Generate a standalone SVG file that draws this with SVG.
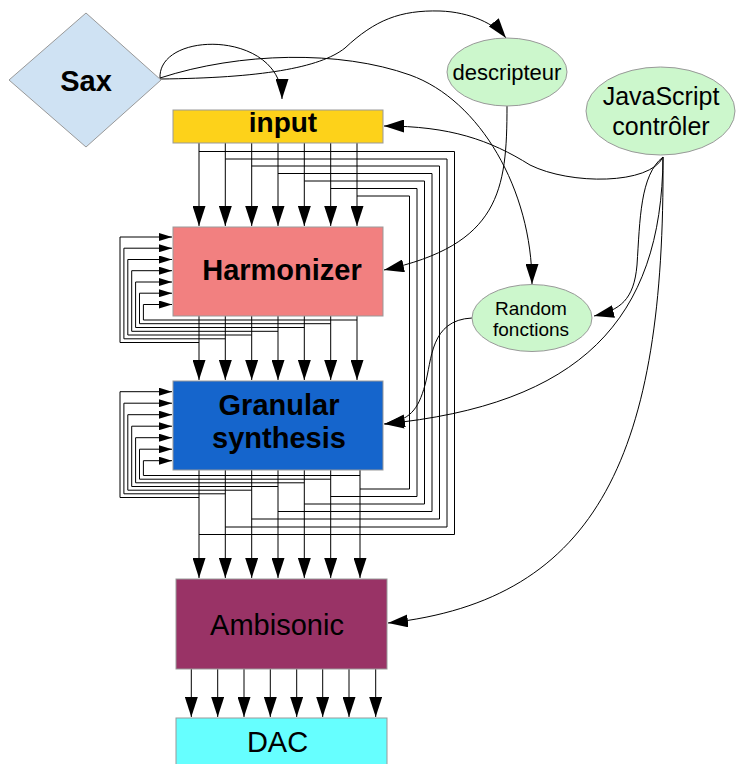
<svg xmlns="http://www.w3.org/2000/svg" width="736" height="764" viewBox="0 0 736 764">
<style>
.box{stroke:#999;stroke-width:1}
.ell{fill:#ccf7cc;stroke:#999;stroke-width:1}
.lbl{font-family:"Liberation Sans",Arial,sans-serif;text-anchor:middle;fill:#000}
.b{font-weight:bold}
.w{fill:none;stroke:#000;stroke-width:1}
.a{marker-end:url(#ah)}
.s{marker-end:url(#sh)}
</style>
<defs>
<marker id="ah" viewBox="0 0 20 13" refX="20" refY="6.5" markerWidth="20" markerHeight="13" markerUnits="userSpaceOnUse" orient="auto"><path d="M0,0L20,6.5L0,13z" fill="#000"/></marker>
<marker id="sh" viewBox="0 0 13 8" refX="13" refY="4" markerWidth="13" markerHeight="8" markerUnits="userSpaceOnUse" orient="auto"><path d="M0,0L13,4L0,8z" fill="#000"/></marker>
</defs>
<rect width="736" height="764" fill="#fff"/>
<g id="connectors" class="w">
<!-- input to harmonizer -->
<path class="a" d="M199,143V226"/><path class="a" d="M225.3,143V226"/><path class="a" d="M251.7,143V226"/><path class="a" d="M278,143V226"/><path class="a" d="M304.3,143V226"/><path class="a" d="M330.7,143V226"/><path class="a" d="M357,143V226"/>
<!-- input bypass to ambisonic -->
<path d="M199,151.5H454.5V534.5H199"/>
<path d="M225.3,159H447V527H225.3"/>
<path d="M251.7,166H439.5V519H251.7"/>
<path d="M278,173.5H432V511.5H278"/>
<path d="M304.3,181H424.5V504H304.3"/>
<path d="M330.7,188.5H417V496.5H330.7"/>
<path d="M357,196H409.5V489H360"/>
<!-- harmonizer feedback -->
<path class="s" d="M199,342.5H120V237H172"/>
<path class="s" d="M225.3,338.8H123.9V248.2H172"/>
<path class="s" d="M251.7,335H127.8V259.5H172"/>
<path class="s" d="M278,331.3H131.7V270.7H172"/>
<path class="s" d="M304.3,327.5H135.6V282H172"/>
<path class="s" d="M330.7,323.7H139.5V293.2H172"/>
<path class="s" d="M357,320H143.4V304.5H172"/>
<!-- harmonizer to granular -->
<path class="a" d="M199,316V380"/><path class="a" d="M225.3,316V380"/><path class="a" d="M251.7,316V380"/><path class="a" d="M278,316V380"/><path class="a" d="M304.3,316V380"/><path class="a" d="M330.7,316V380"/><path class="a" d="M357,316V380"/>
<!-- granular feedback -->
<path class="s" d="M199,497.5H120V391.7H172"/>
<path class="s" d="M225.3,493.8H123.9V403.2H172"/>
<path class="s" d="M251.7,490.2H127.8V414.7H172"/>
<path class="s" d="M278,486.5H131.7V426.2H172"/>
<path class="s" d="M304.3,482.8H135.6V437.7H172"/>
<path class="s" d="M330.7,479.2H139.5V449.2H172"/>
<path class="s" d="M360,475.5H143.4V460.7H172"/>
<!-- granular to ambisonic -->
<path class="a" d="M199,470V578"/><path class="a" d="M225.3,470V578"/><path class="a" d="M251.7,470V578"/><path class="a" d="M278,470V578"/><path class="a" d="M304.3,470V578"/><path class="a" d="M330.7,470V578"/><path class="a" d="M360,470V578"/>
<!-- ambisonic to DAC -->
<path class="a" d="M191.3,669V717"/><path class="a" d="M217.7,669V717"/><path class="a" d="M244,669V717"/><path class="a" d="M270.3,669V717"/><path class="a" d="M296.7,669V717"/><path class="a" d="M322.7,669V717"/><path class="a" d="M349,669V717"/><path class="a" d="M375.7,669V717"/>
<!-- curved connectors -->
<path class="a" d="M160,78C158,30 282,30 282,99"/>
<path class="a" d="M160,79C260,78 320,68 345,48C375,20 400,10 440,11C470,12 495,24 506,38"/>
<path class="a" d="M160,78C240,52 340,50 410,75C480,100 532,190 532,284"/>
<path class="a" d="M507,106C507,190 500,245 384,270"/>
<path class="a" d="M663,157C650,185 570,185 530,165C490,140 450,126 384,126"/>
<path class="a" d="M663,157C640,175 640,220 637,265C634,300 620,310 594,316"/>
<path class="a" d="M663,157C662,320 580,405 384,424"/>
<path class="a" d="M663,157C665,450 600,600 388,623"/>
<path class="a" d="M472,318C430,320 432,360 425,385C418,410 410,420 385,424"/>
</g>
<g id="sax"><polygon class="box" points="9,80 86,13 161,80 86,147" fill="#cfe2f3"/><text class="lbl b" x="86" y="91" font-size="29">Sax</text></g>
<g id="input"><rect class="box" x="173" y="110" width="210" height="33" fill="#fdd21a"/><text class="lbl b" x="283" y="132" font-size="28">input</text></g>
<g id="descripteur"><ellipse class="ell" cx="507" cy="72" rx="60" ry="34"/><text class="lbl" x="507" y="80" font-size="22">descripteur</text></g>
<g id="javascript"><ellipse class="ell" cx="660.5" cy="111" rx="74.5" ry="44"/><text class="lbl" x="661" y="105" font-size="25">JavaScript</text><text class="lbl" x="661" y="135" font-size="25">contrôler</text></g>
<g id="harmonizer"><rect class="box" x="173" y="227" width="210" height="89" fill="#f28080"/><text class="lbl b" x="282" y="280" font-size="29">Harmonizer</text></g>
<g id="random"><ellipse class="ell" cx="532" cy="318" rx="60" ry="33.5"/><text class="lbl" x="531" y="315" font-size="19">Random</text><text class="lbl" x="531" y="336" font-size="19">fonctions</text></g>
<g id="granular"><rect class="box" x="173" y="381" width="210" height="89" fill="#1565cc"/><text class="lbl b" x="279" y="415" font-size="29">Granular</text><text class="lbl b" x="279" y="448" font-size="29">synthesis</text></g>
<g id="ambisonic"><rect class="box" x="176" y="579" width="211" height="90" fill="#993366"/><text class="lbl" x="277" y="635" font-size="29">Ambisonic</text></g>
<g id="dac"><rect class="box" x="176" y="718" width="211" height="50" fill="#66ffff"/><text class="lbl" x="277.5" y="752" font-size="29">DAC</text></g>
</svg>
